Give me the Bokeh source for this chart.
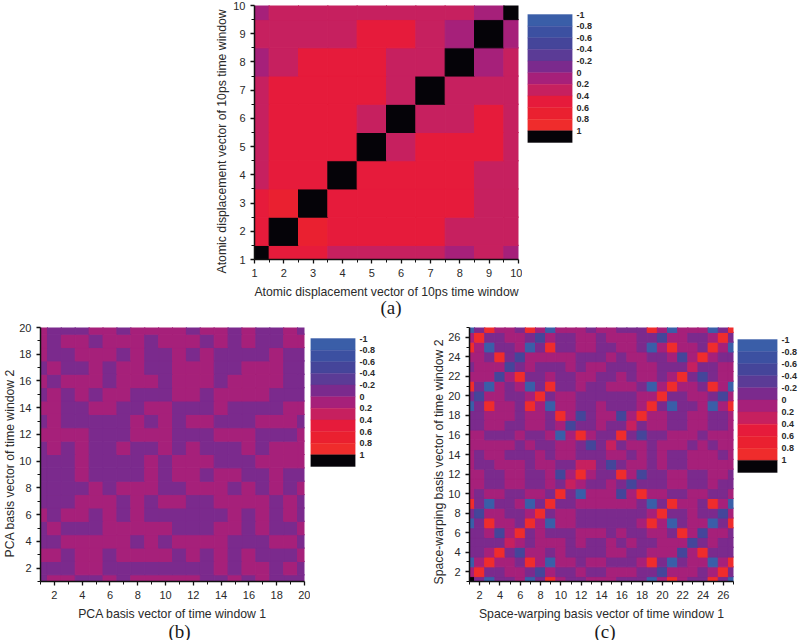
from bokeh.plotting import figure
from bokeh.layouts import row, column
from bokeh.models import (ColumnDataSource, LinearColorMapper, FixedTicker, Range1d, Spacer, Title)
from bokeh.transform import transform
from bokeh.embed import file_html
from bokeh.resources import INLINE

# Legend bands: lower edge labelled at the top of every band
legend_labels = ["-1", "-0.8", "-0.6", "-0.4", "-0.2", "0", "0.2", "0.4", "0.6", "0.8", "1"]
legend_ticks = [-1, -0.8, -0.6, -0.4, -0.2, 0, 0.2, 0.4, 0.6, 0.8, 1]
band_values = [-0.9, -0.7, -0.5, -0.3, -0.1, 0.1, 0.3, 0.5, 0.7, 0.9, 1.1]
palette = ["#3a5ea8", "#3c50a1", "#45459a", "#5b3b96", "#7b2a8d", "#a6207a",
           "#c6205f", "#e61b3b", "#ea2030", "#ef2c2c", "#050308"]

# letter -> value
LEVEL = {"B": -0.9, "D": -0.5, "P": -0.1, "M": 0.1, "C": 0.3, "E": 0.5, "O": 0.7, "R": 0.9, "K": 1.1}

# rows listed from y = 1 upward, columns from x = 1
matrix_a = [
    "KEECCCCMCM",
    "EKOEEEECCC",
    "EOKEEEEECC",
    "CEEKEEEECC",
    "CEEEKCEEEC",
    "CEEECKCCEC",
    "CEEEECKCCC",
    "MCEEECCKMC",
    "CCCCEECMKM",
    "MCCCCCCCMK",
]
matrix_b = [
    "PMMPPMPMMMMMPPMPMPPP",
    "PPPMMPPPPPPPPMPMMPMP",
    "MMPMMPMMMMPMPMPMPPPM",
    "PPMMMMMPMPMMMMPPPMMP",
    "PMPPPMMMMMPPPMMPMPPM",
    "MPMMPMPMPPPPPPMPMPMP",
    "PPPMMMPMPMMPPMMMMPMP",
    "PPPPMPMMMPPMMMPMPMPM",
    "PPPMPPPPMPMMPMMPPMPP",
    "PPPMPPPPMPMMMPPPMMMM",
    "PMPMPPMPPMPMPPPMPMMM",
    "MMMMPPPMMMPPPMMMPPPM",
    "PMPPPPPMPMPMMPPPMMMP",
    "MMPPMMPPMMPPPMPPPPMM",
    "PMPMPMMPPPMMPMMMMPPP",
    "MPMMMPMMMPMMMPMMMMPP",
    "PMPPMPMMPPMMMPPMMMPP",
    "MPPMMMPMPPMPMPPPPMPP",
    "MPMMPMMMPMMMPMPMPPMM",
    "MPPPMMPMMMMPMMPMPPMP",
]
matrix_c = [
    "KPBPPMBPRMPPMMMPPPBMRMPPRPB",
    "MRPPMMPDMPPMPPMMMPPDMMMPMRP",
    "BMRMMPRMBMMPMMPPPMRPBPMMBMR",
    "PPMRPDMMPMPPPPMMPPMMMDMRPPP",
    "PPPPCMPMMMPMPPMPMPPMMMDPMPP",
    "PPMDMRPMPPPMMMPMPPMMPRMDMMP",
    "BPRMMPRMBMMPPPPPPMRMBPMMBPR",
    "PDMMPPMRPMMPPPPPPPMRPPMPPDM",
    "RPBPPMBPRPPMMMMMMPBPRMMPRMB",
    "MPMMPPMMPRPBMMMDMRMMPPMMPPM",
    "MMPPMMPPMPCMPPMPDPPPMMPPMPP",
    "MMPPMMPPMDMRMPPRMDPPMMPPMMP",
    "MPPMMMPMMPPCCPDPMMPMPPMMMMM",
    "MPMMPPPMPMMPPPMMPMPMPPMMMPM",
    "MMMMMPMPPMMPDPCPMMPMMMPMPMM",
    "MMPPPMPPMBMRMPPRPDPPMMMPMMM",
    "PPMMPPMMPMDPPMPPCPMMPPMMPPM",
    "PPMMMPMMPRMDPMMDMRMMPPMMPPM",
    "BPRMMPRMBMMPPMPPPMRPBPPMBMR",
    "PDMMPPMRPMMPPPPPPMMRPPMMPDM",
    "RPBMPMBPRPPMPPMMMPBMRMMPRMB",
    "MMMDMRPPMPPMMPPMPMMPMRPDPMM",
    "PMMMDPMPPPMPMMPPPMMPPPCPPMM",
    "MMPRPDMMMMMPPPMPMMPPMDMRMPP",
    "RMBPPMBPRPPMMPPMMPBMRMMPRMB",
    "MRPPMMPDMPPMMPMMMPPDMMPPMRP",
    "BPRMMPRMBMMMPMMPPPRMBMMMBPR",
]

FONT = "Liberation Sans"
mapper = LinearColorMapper(palette=palette, low=-1, high=1.2)


def heat(matrix, x_label, y_label, ticks, labelled, panel, width, height, left, right, top, bottom,
         ylab_offset, ylab_standoff, panel_offset, panel_standoff):
    n = len(matrix)
    xs, ys, vs = [], [], []
    for j, line in enumerate(matrix):
        for i, ch in enumerate(line):
            xs.append(i + 1)
            ys.append(j + 1)
            vs.append(LEVEL[ch])
    p = figure(width=width, height=height, output_backend="svg", toolbar_location=None,
               x_range=Range1d(1, n), y_range=Range1d(1, n), tools="",
               min_border_left=left, min_border_right=right, min_border_top=top, min_border_bottom=bottom,
               outline_line_color=None, background_fill_color="white")
    src = ColumnDataSource(dict(x=xs, y=ys, v=vs))
    p.rect("x", "y", width=1, height=1, source=src, fill_color=transform("v", mapper),
           line_color=transform("v", mapper), line_width=1)
    p.grid.visible = False
    overrides = {t: str(t) for t in labelled}
    for ax in (p.xaxis[0], p.yaxis[0]):
        ax.ticker = FixedTicker(ticks=labelled, minor_ticks=ticks)
        ax.major_label_text_font = FONT
        ax.major_label_text_font_size = "11px"
        ax.major_label_text_color = "#2a2a2a"
        ax.axis_line_width = 1.5
        ax.axis_line_color = "#111111"
        ax.major_tick_line_color = "#111111"
        ax.minor_tick_line_color = "#111111"
        ax.major_tick_line_width = 1.3
        ax.major_tick_out = 4
        ax.major_tick_in = 0
        ax.minor_tick_out = 3
        ax.minor_tick_in = 0
        ax.major_label_overrides = overrides
    p.yaxis[0].major_label_orientation = "horizontal"
    xa = p.xaxis[0]
    xa.axis_label = x_label
    xa.axis_label_text_font = FONT
    xa.axis_label_text_font_size = "12.25px"
    xa.axis_label_text_font_style = "normal"
    xa.axis_label_text_color = "#2a2a2a"
    xa.axis_label_standoff = 5
    p.add_layout(Title(text=y_label, align="left", offset=ylab_offset, standoff=ylab_standoff,
                       text_font=FONT, text_font_size="12.25px", text_font_style="normal",
                       text_color="#2a2a2a"), "left")
    p.add_layout(Title(text=panel, align="left", offset=panel_offset, standoff=panel_standoff,
                       text_font="Liberation Serif", text_font_size="19px", text_font_style="normal",
                       text_color="#1a1a1a"), "below")
    return p


def legend(width, height, left, right, top, bottom, band_top, band_bottom):
    # frame matches the heatmap beside it; bands occupy band_top..band_bottom px of the row
    frame = height - top - bottom
    per_px = 2.2 / (band_bottom - band_top)
    y_top = -1 - (band_top - top) * per_px
    y_bottom = y_top + frame * per_px
    p = figure(width=width, height=height, output_backend="svg", toolbar_location=None, tools="",
               x_range=Range1d(0, 1), y_range=Range1d(y_bottom, y_top),
               min_border_left=left, min_border_right=right, min_border_top=top, min_border_bottom=bottom,
               outline_line_color=None, y_axis_location="right")
    src = ColumnDataSource(dict(x=[0.5] * len(band_values), y=band_values, v=band_values))
    p.rect("x", "y", width=1, height=0.2, source=src, fill_color=transform("v", mapper),
           line_color=transform("v", mapper), line_width=0.4)
    p.grid.visible = False
    p.xaxis.visible = False
    ax = p.yaxis[0]
    ax.ticker = FixedTicker(ticks=legend_ticks)
    ax.major_label_overrides = {t: l for t, l in zip(legend_ticks, legend_labels)}
    ax.axis_line_color = None
    ax.major_tick_line_color = None
    ax.minor_tick_line_color = None
    ax.major_tick_in = 0
    ax.major_tick_out = 2
    ax.major_label_standoff = 2
    ax.major_label_text_font = FONT
    ax.major_label_text_font_size = "9px"
    ax.major_label_text_font_style = "bold"
    ax.major_label_text_color = "#2a2a2a"
    return p


ticks_a = [1.5 + i for i in range(9)]
labels_a = list(range(1, 11))
ticks_b = list(range(1, 21, 2))
labels_b = list(range(2, 21, 2))
ticks_c = list(range(1, 28, 2))
labels_c = list(range(2, 27, 2))

fig_a = heat(matrix_a, "Atomic displacement vector of 10ps time window",
             "Atomic displacement vector of 10ps time window",
             ticks_a, labels_a, "(a)", 322, 319, 54, 4, 5, 60, -14, 4, 126, -14)
fig_b = heat(matrix_b, "PCA basis vector of time window 1", "PCA basis vector of time window 2",
             ticks_b, labels_b, "(b)", 310, 321, 40, 6, 8, 59, 24, 0, 128, -10)
fig_c = heat(matrix_c, "Space-warping basis vector of time window 1", "Space-warping basis vector of time window 2",
             ticks_c, labels_c, "(c)", 335, 321, 69, 2, 8, 59, -3, 0, 125, -10)

leg_a = legend(78, 319, 5, 28, 5, 60, 14, 142)
leg_b = legend(90, 321, 0, 45, 8, 59, 19, 147)
leg_c = legend(65, 321, 2, 18, 8, 59, 20, 153)

top_row = row(Spacer(width=200, height=319), fig_a, leg_a, spacing=0)
bottom_row = row(fig_b, leg_b, fig_c, leg_c, spacing=0)
page = column(top_row, bottom_row, spacing=0)

open("out.html", "w").write(file_html(page, INLINE))
